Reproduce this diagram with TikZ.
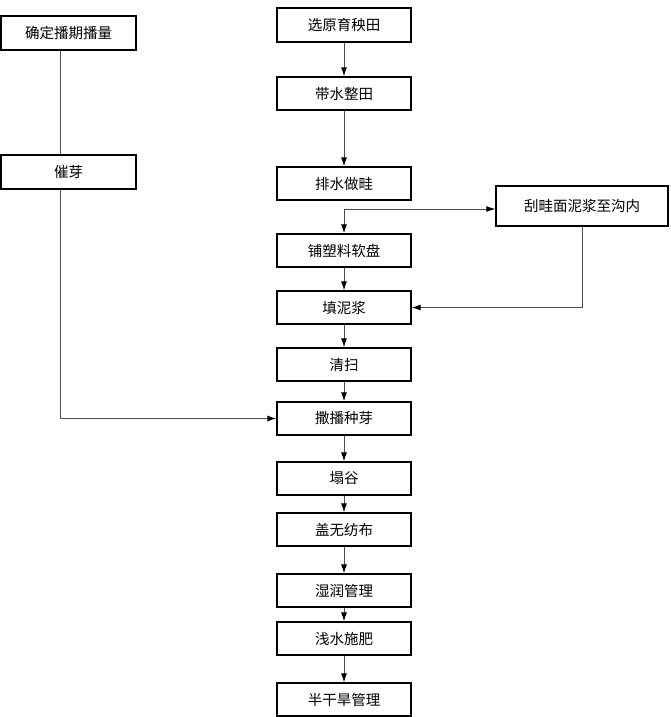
\documentclass[tikz,border=0pt]{standalone}
\usepackage{fontspec}
\setmainfont{Noto Sans CJK SC}
\usetikzlibrary{arrows.meta,calc}
\tikzset{
  box/.style={draw=black, line width=1.3pt, minimum width=134pt, minimum height=33pt, inner sep=0pt, font=\fontsize{14.5pt}{16pt}\selectfont},
  conn/.style={draw=black!70, line width=1pt},
  arr/.style={conn, -{Latex[length=9pt,width=6pt,color=black]}}
}
\begin{document}
\begin{tikzpicture}[x=1pt,y=-1pt]
\useasboundingbox (0,0) rectangle (671,717);
% left column
\node[box, minimum width=135pt, minimum height=34pt] (qd) at (68.5,33) {确定播期播量};
\node[box, minimum width=135pt, minimum height=34pt] (cy) at (68.5,172) {催芽};
% center column
\node[box, minimum height=34pt] (sel) at (344,25) {选原育秧田};
\node[box] (dai) at (344,93.5) {带水整田};
\node[box] (pai) at (344,183.5) {排水做畦};
\node[box] (pu) at (344,250.5) {铺塑料软盘};
\node[box] (tian) at (344,307.5) {填泥浆};
\node[box] (qing) at (344,364.5) {清扫};
\node[box] (sa) at (344,418.5) {撒播种芽};
\node[box] (ta) at (344,478.5) {塌谷};
\node[box] (gai) at (344,529.5) {盖无纺布};
\node[box] (shi) at (344,590.5) {湿润管理};
\node[box] (qian) at (344,638.5) {浅水施肥};
\node[box] (ban) at (344,699.5) {半干旱管理};
% right box
\node[box, minimum width=172pt, minimum height=40pt] (gua) at (582,206) {刮畦面泥浆至沟内};
% coordinates
\coordinate (lx) at (60,0);
\coordinate (jn) at (344,209);
% connectors
\draw[conn] (qd.south -| lx) -- (cy.north -| lx);
\draw[arr] (cy.south -| lx) |- (sa.west);
\draw[arr] (sel) -- (dai);
\draw[arr] (dai) -- (pai);
\draw[arr] (jn) -- (jn -| gua.west);
\draw[arr] (jn) -- (pu.north);
\draw[arr] (pu) -- (tian);
\draw[arr] (gua.south) |- (tian.east);
\draw[arr] (tian) -- (qing);
\draw[arr] (qing) -- (sa);
\draw[arr] (sa) -- (ta);
\draw[arr] (ta) -- (gai);
\draw[arr] (gai) -- (shi);
\draw[arr] (shi) -- (qian);
\draw[arr] (qian) -- (ban);
\end{tikzpicture}
\end{document}
